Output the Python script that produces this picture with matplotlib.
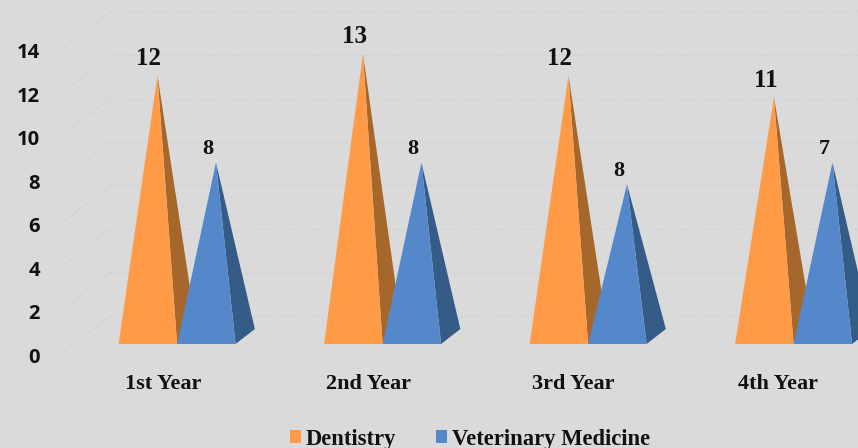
import matplotlib
matplotlib.use("Agg")
import matplotlib.pyplot as plt
from matplotlib.patches import Polygon, Patch

# === DATA ===
years = ["1st Year", "2nd Year", "3rd Year", "4th Year"]
dentistry = [12, 13, 12, 11]
veterinary = [8, 8, 7, 8]
# printed labels do not always agree with the heights in the original
dentistry_labels = ["12", "13", "12", "11"]
veterinary_labels = ["8", "8", "8", "7"]
y_ticks = [0, 2, 4, 6, 8, 10, 12, 14]

# === COLOURS ===
BG = "#dadada"
ORANGE, ORANGE_SIDE = "#ff9b47", "#a5672b"
BLUE, BLUE_SIDE = "#5588cb", "#355b87"
GRID = "#cfcfcf"

# === SCALES (one category = 205.5 px, one value unit = 21.75 px) ===
PX_X = 205.5
PX_Y = 21.75

fig = plt.figure(figsize=(8.58, 4.48), dpi=100, facecolor=BG)
ax = fig.add_axes([0, 0, 1, 1])
ax.set_xlim(-177 / PX_X, (858 - 177) / PX_X)
ax.set_ylim(-(448 - 355) / PX_Y, 355 / PX_Y)
ax.axis("off")

# depth is an oblique shift, floor runs back 50 px right and 39 px up
WALL_DX = 50 / PX_X
WALL_DY = 39 / PX_Y


def shift(x, y, depth):
    return x + depth * WALL_DX, y + depth * WALL_DY


# === WALL GRID ===
for t in y_ticks:
    x0, y0 = -117 / PX_X, t
    x1, y1 = shift(x0, y0, 1)
    ax.plot([x0, x1], [y0, y1], color=GRID, lw=1, ls=(0, (1, 1.2)), zorder=1)
    ax.plot([x1, 681 / PX_X], [y1, y1], color=GRID, lw=1, ls=(0, (1, 1.5)), zorder=1)
    ax.text(-137 / PX_X, t - 2.5 / PX_Y, str(t), ha="right", va="center", fontsize=14.5,
            fontweight="bold", family="Open Sans", color="#111111")

# === PYRAMIDS ===
BAR_W = 58.5 / PX_X
D_FRONT, D_BACK = 11 / 39, 26 / 39


def pyramid(x_left, value, face, side):
    fl = shift(x_left, 0, D_FRONT)
    fr = shift(x_left + BAR_W, 0, D_FRONT)
    br = shift(x_left + BAR_W, 0, D_BACK)
    apex = shift(x_left + BAR_W / 2, value, (D_FRONT + D_BACK) / 2)
    ax.add_patch(Polygon([fr, br, apex], closed=True, fc=side, ec="none", zorder=3))
    ax.add_patch(Polygon([fl, fr, apex], closed=True, fc=face, ec="none", zorder=3))
    return apex


for i, year in enumerate(years):
    base = i - 14 / PX_X
    a = pyramid(base - BAR_W, dentistry[i], ORANGE, ORANGE_SIDE)
    ax.text(a[0] - 8.5 / PX_X, a[1] + 17 / PX_Y, dentistry_labels[i], ha="center", va="center",
            fontsize=18, fontweight="bold", family="Liberation Serif", color="#111111", zorder=5)
    b = pyramid(base, veterinary[i], BLUE, BLUE_SIDE)
    ax.text(b[0] - 8.5 / PX_X, b[1] + 13.5 / PX_Y, veterinary_labels[i], ha="center", va="center",
            fontsize=16, fontweight="bold", family="Liberation Serif", color="#111111", zorder=5)
    ax.text(i * 205 / PX_X - 14 / PX_X, -28.5 / PX_Y, year, ha="center", va="center", fontsize=16,
            fontweight="bold", family="Liberation Serif", color="#111111")

# faint leftover lines below the 3rd year group
for px in (646, 661):
    ax.plot([(px - 177) / PX_X] * 2, [11 / PX_Y, -93 / PX_Y], color="#d6d6d6", lw=0.7, zorder=0)

# === LEGEND ===
handles = [Patch(fc=ORANGE, ec="none"), Patch(fc=BLUE, ec="none")]
ax.legend(handles, ["Dentistry", "Veterinary Medicine"], ncol=2, frameon=False,
          loc="center", bbox_to_anchor=(470 / 858, 1 - 439 / 448),
          prop={"family": "Liberation Serif", "weight": "bold", "size": 16.3},
          handlelength=0.49, handleheight=0.49, handletextpad=0.22, columnspacing=1.77,
          labelcolor="#111111", borderpad=0, borderaxespad=0)

fig.savefig("out.png", dpi=100, facecolor=BG)
